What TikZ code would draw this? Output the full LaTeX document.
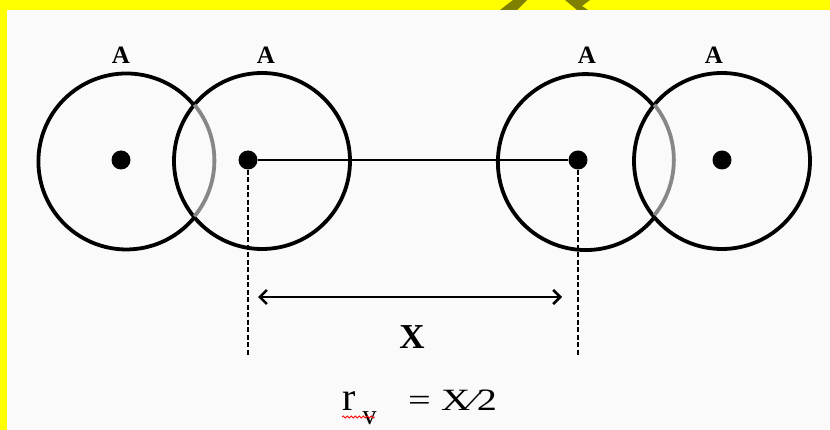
\documentclass[tikz,border=0pt]{standalone}
\usepackage{fontspec}
\setmainfont{Liberation Serif}
\usepackage{tikz}
\usetikzlibrary{arrows.meta, decorations.pathmorphing}
\definecolor{hiyellow}{RGB}{255,255,0}
\definecolor{paper}{RGB}{250,250,250}
\definecolor{olivemark}{RGB}{128,128,0}
\definecolor{overlap}{RGB}{135,135,135}

\begin{document}
\begin{tikzpicture}[x=1pt, y=-1pt,
  atom/.style={circle, draw=black, line width=3.8pt, minimum size=176pt,
               inner sep=0pt, outer sep=0pt},
  ring/.style={line width=3.8pt},
  nucleus/.style={circle, fill=black, minimum size=19pt, inner sep=0pt},
  lbl/.style={font=\fontsize{25}{27}\selectfont\bfseries},
  guide/.style={dash pattern=on 5pt off 2.5pt, line width=2.4pt},
  bond/.style={line width=2.6pt},
  span/.style={{Straight Barb[length=7pt,width=14pt]}-{Straight Barb[length=7pt,width=14pt]},
               line width=2.6pt},
  spell/.style={red, line width=0.8pt, decorate,
                decoration={snake, segment length=4pt, amplitude=1pt}}]

\useasboundingbox (0,0) rectangle (830,430);
\fill[hiyellow] (0,0) rectangle (830,430);
\fill[paper] (7,10) rectangle (830,430);
\fill[olivemark] (500,10) -- (517,10) -- (527,0) -- (513,0) -- cycle;
\fill[olivemark] (565,0) -- (590,0) -- (582,6) -- (588,10) -- (577,10) -- cycle;

\node[atom, draw=none] (c1) at (126,161) {};
\node[atom] (c2) at (262,161) {};
\node[atom, draw=none] (c3) at (585,161) {};
\node[atom] (c4) at (722,161) {};
\draw[ring] (c1.39.4) arc[start angle=39.4, end angle=320.6, radius=88pt];
\draw[ring, overlap] (c1.-39.4) arc[start angle=-39.4, end angle=39.4, radius=88pt];
\draw[ring] (c3.38.9) arc[start angle=38.9, end angle=321.1, radius=88pt];
\draw[ring, overlap] (c3.-38.9) arc[start angle=-38.9, end angle=38.9, radius=88pt];

\node[nucleus] (n1) at (121,160) {};
\node[nucleus] (n2) at (248,160) {};
\node[nucleus] (n3) at (578,160) {};
\node[nucleus] (n4) at (722,160) {};

\node[lbl] (a1) at (121,55) {A};
\node[lbl] (a2) at (266,55) {A};
\node[lbl] (a3) at (587,55) {A};
\node[lbl] (a4) at (714,55) {A};

\coordinate (g2) at (248,355);
\coordinate (g3) at (578,355);
\coordinate (s2) at (258,297);
\coordinate (s3) at (562,297);

\draw[bond] (n2) -- (n3);
\draw[guide] (n2) -- (g2);
\draw[guide] (n3) -- (g3);
\draw[span] (s2) -- (s3);

\node[font=\fontsize{35}{38}\selectfont\bfseries] (dist) at (412,337) {X};

\node[anchor=base west, inner sep=0pt] (rv) at (342,410)
  {\fontsize{40}{42}\selectfont r\kern7pt\raisebox{-14pt}{\fontsize{28}{30}\selectfont v}};
\node[anchor=base west, inner sep=0pt] (half) at (408,410)
  {\scalebox{1.3}[1]{\fontsize{31}{34}\selectfont = X⁄2}};
\draw[spell] ([yshift=-7pt]rv.base west) -- ([yshift=-7pt, xshift=-2pt]rv.base east);
\end{tikzpicture}
\end{document}
